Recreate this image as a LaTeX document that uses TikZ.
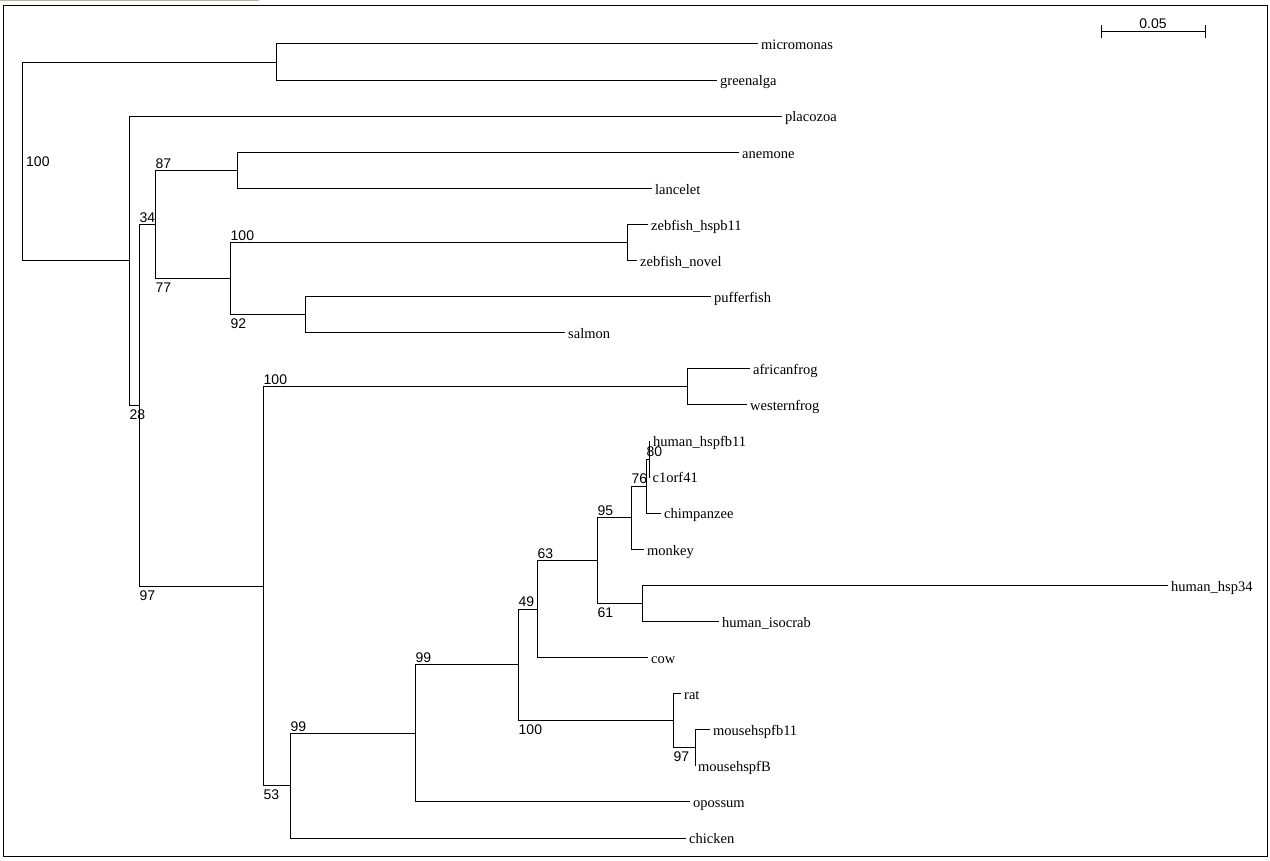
\documentclass[tikz,border=0pt]{standalone}
\usepackage{fontspec}
\setmainfont{Liberation Serif}
\newfontfamily\bsfont{Liberation Sans}
\usepackage{tikz}
\usetikzlibrary{calc}
\usepackage{xcolor}
\definecolor{topbar}{RGB}{185,180,165}
\definecolor{branchcol}{RGB}{0,0,0}

\tikzset{
  branch/.style={draw=branchcol, line width=1pt},
  taxon/.style={anchor=west, inner xsep=3pt, inner ysep=0pt, text height=11.5pt, text depth=0pt,
    font=\fontsize{14.5}{16}\selectfont},
  bsnum/.style={inner xsep=0.5pt, font=\bsfont\fontsize{14}{15}\selectfont},
  bsup/.style={bsnum, anchor=south west, inner ysep=2pt},
  bsdown/.style={bsnum, anchor=north west, inner ysep=4pt},
}

\begin{document}
\begin{tikzpicture}[x=1pt, y=1pt]
  \useasboundingbox (0,0) rectangle (1270,-861);
  \fill[topbar] (0,0) rectangle (259,-1.5);
  \draw[line width=1pt] (3.5,-5.5) rectangle (1267.5,-856);

  % leaves
  \node[taxon] (micromonas) at (758,-44.0) {micromonas};
  \node[taxon] (greenalga) at (717,-80.1) {greenalga};
  \node[taxon] (placozoa) at (782,-116.2) {placozoa};
  \node[taxon] (anemone) at (739,-152.3) {anemone};
  \node[taxon] (lancelet) at (652,-188.4) {lancelet};
  \node[taxon] (zebhspb) at (648,-224.5) {zebfish\_hspb11};
  \node[taxon] (zebnovel) at (637,-260.5) {zebfish\_novel};
  \node[taxon] (pufferfish) at (711,-296.6) {pufferfish};
  \node[taxon] (salmon) at (565,-332.7) {salmon};
  \node[taxon] (africanfrog) at (750,-368.8) {africanfrog};
  \node[taxon] (westernfrog) at (747,-404.9) {westernfrog};
  \node[taxon] (humhspfb) at (650,-441.0) {human\_hspfb11};
  \node[taxon] (corf) at (649.5,-477.1) {c1orf41};
  \node[taxon] (chimpanzee) at (661,-513.2) {chimpanzee};
  \node[taxon] (monkey) at (644,-549.3) {monkey};
  \node[taxon] (humhsp) at (1168,-585.4) {human\_hsp34};
  \node[taxon] (humiso) at (719,-621.4) {human\_isocrab};
  \node[taxon] (cow) at (648,-657.5) {cow};
  \node[taxon] (rat) at (681,-693.6) {rat};
  \node[taxon] (mousefb) at (710,-729.7) {mousehspfb11};
  \node[taxon] (mouseB) at (695,-765.8) {mousehspfB};
  \node[taxon] (opossum) at (690,-801.9) {opossum};
  \node[taxon] (chicken) at (686,-838.0) {chicken};

  % internal nodes
  \coordinate (nS) at (649,-459.05);
  \coordinate (nR) at (646,-486.1);
  \coordinate (nP) at (631,-517.7);
  \coordinate (nQ) at (642,-603.4);
  \coordinate (nO) at (597,-560.55);
  \coordinate (nN) at (537,-609.0);
  \coordinate (nU) at (695,-747.75);
  \coordinate (nT) at (673,-720.7);
  \coordinate (nM) at (518,-664.85);
  \coordinate (nL) at (415,-733.4);
  \coordinate (nK) at (290,-785.7);
  \coordinate (nJ) at (687,-386.85);
  \coordinate (nI) at (263,-586.3);
  \coordinate (nG) at (627,-242.5);
  \coordinate (nH) at (305,-314.65);
  \coordinate (nF) at (230,-278.6);
  \coordinate (nE) at (237,-170.35);
  \coordinate (nD) at (155,-224.5);
  \coordinate (nC) at (139,-405.4);
  \coordinate (nB) at (129,-260.8);
  \coordinate (nA) at (276,-62.05);
  \coordinate (root) at (22,-161.4);

  % branches
  \draw[branch] (root) |- (nA) (root) |- (nB);
  \draw[branch] (nA) |- (micromonas.west) (nA) |- (greenalga.west);
  \draw[branch] (nB) |- (placozoa.west) (nB) |- (nC);
  \draw[branch] (nC) |- (nD) (nC) |- (nI);
  \draw[branch] (nD) |- (nE) (nD) |- (nF);
  \draw[branch] (nE) |- (anemone.west) (nE) |- (lancelet.west);
  \draw[branch] (nF) |- (nG) (nF) |- (nH);
  \draw[branch] (nG) |- (zebhspb.west) (nG) |- (zebnovel.west);
  \draw[branch] (nH) |- (pufferfish.west) (nH) |- (salmon.west);
  \draw[branch] (nI) |- (nJ) (nI) |- (nK);
  \draw[branch] (nJ) |- (africanfrog.west) (nJ) |- (westernfrog.west);
  \draw[branch] (nK) |- (nL) (nK) |- (chicken.west);
  \draw[branch] (nL) |- (nM) (nL) |- (opossum.west);
  \draw[branch] (nM) |- (nN) (nM) |- (nT);
  \draw[branch] (nN) |- (nO) (nN) |- (cow.west);
  \draw[branch] (nO) |- (nP) (nO) |- (nQ);
  \draw[branch] (nP) |- (nR) (nP) |- (monkey.west);
  \draw[branch] (nR) |- (nS) (nR) |- (chimpanzee.west);
  \draw[branch] (nS) |- (humhspfb.west) (nS) |- (corf.west);
  \draw[branch] (nQ) |- (humhsp.west) (nQ) |- (humiso.west);
  \draw[branch] (nT) |- (rat.west) (nT) |- (nU);
  \draw[branch] (nU) |- (mousefb.west) (nU) |- (mouseB.west);

  % bootstrap values
  \node[bsnum, anchor=west, inner xsep=4pt] (bsroot) at (root) {100};
  \node[bsup] (bsE) at (nD |- nE) {87};
  \node[bsdown] (bsF) at (nD |- nF) {77};
  \node[bsup] (bsD) at (nC |- nD) {34};
  \node[bsdown] (bsC) at (nB |- nC) {28};
  \node[bsup] (bsG) at (nF |- nG) {100};
  \node[bsdown] (bsH) at (nF |- nH) {92};
  \node[bsup] (bsJ) at (nI |- nJ) {100};
  \node[bsdown] (bsI) at (nC |- nI) {97};
  \node[bsdown] (bsK) at (nI |- nK) {53};
  \node[bsup] (bsL) at (nK |- nL) {99};
  \node[bsup] (bsM) at (nL |- nM) {99};
  \node[bsup] (bsN) at (nM |- nN) {49};
  \node[bsdown] (bsT) at (nM |- nT) {100};
  \node[bsup] (bsO) at (nN |- nO) {63};
  \node[bsup] (bsP) at (nO |- nP) {95};
  \node[bsdown] (bsQ) at (nO |- nQ) {61};
  \node[bsup] (bsR) at (nP |- nR) {76};
  \node[bsup] (bsS) at (nR |- nS) {80};
  \node[bsdown] (bsU) at (nT |- nU) {97};

  % scale bar
  \coordinate (sbl) at (1101,-32);
  \coordinate (sbr) at (1205,-32);
  \draw[branch] (sbl) -- (sbr);
  \draw[branch] ($(sbl)+(0,6.5)$) -- ($(sbl)+(0,-6.5)$);
  \draw[branch] ($(sbr)+(0,6.5)$) -- ($(sbr)+(0,-6.5)$);
  \node[bsnum, anchor=south, inner ysep=3pt] (sblabel) at ($(sbl)!0.5!(sbr)$) {0.05};
\end{tikzpicture}
\end{document}
